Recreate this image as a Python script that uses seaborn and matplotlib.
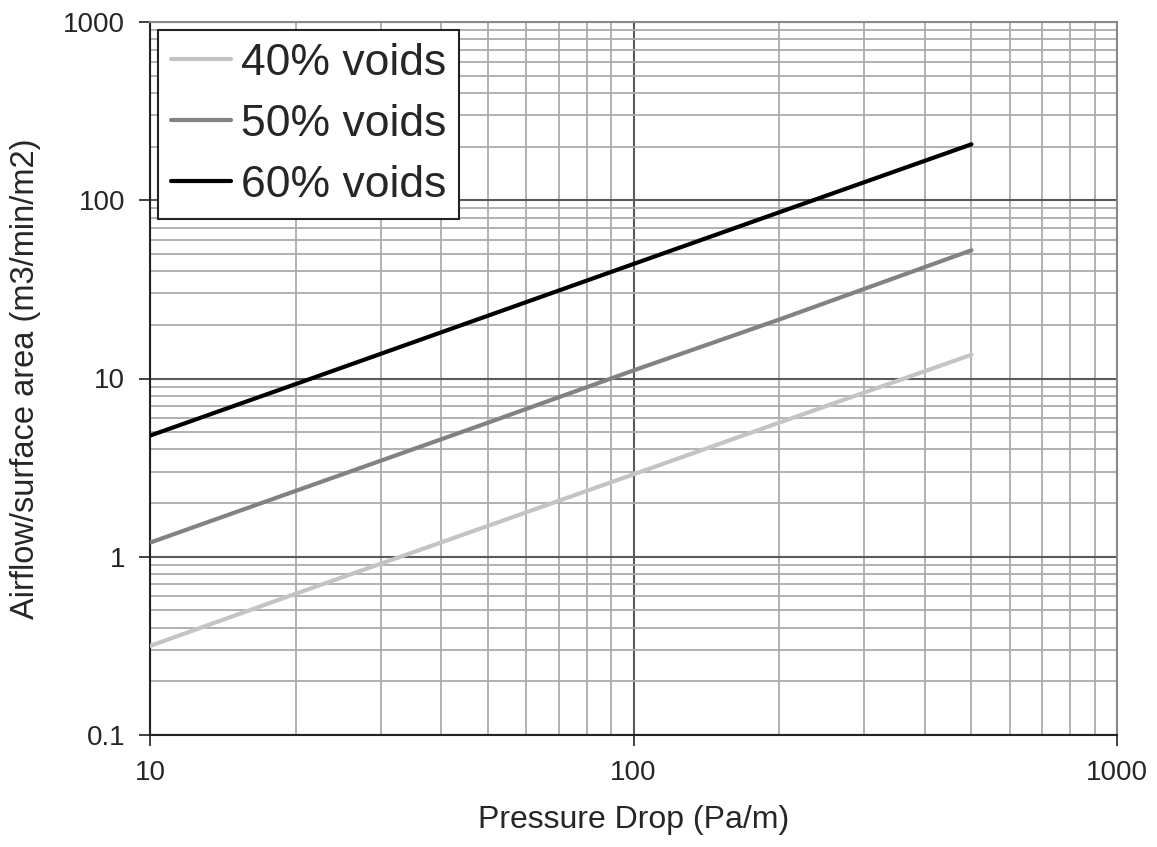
import numpy as np
import pandas as pd
import matplotlib
matplotlib.use("Agg")
import matplotlib.pyplot as plt
import seaborn as sns
from matplotlib.ticker import LogLocator, NullFormatter, FixedLocator, FixedFormatter

# values (pressure drop Pa/m vs airflow m3/min/m2)
pressure = [10, 20, 50, 100, 200, 500]
voids_40 = [0.316, 0.62, 1.49, 2.9, 5.65, 13.6]
voids_50 = [1.20, 2.34, 5.65, 11.1, 21.4, 52.4]
voids_60 = [4.78, 9.3, 22.5, 43.9, 85.5, 206]
series_names = ["40% voids", "50% voids", "60% voids"]
series_colors = ["#c4c4c4", "#828282", "#000000"]

df = pd.DataFrame({
    "pressure": pressure * 3,
    "airflow": voids_40 + voids_50 + voids_60,
    "series": [n for n in series_names for _ in pressure],
})

sns.set_style("white")
plt.rcParams["font.family"] = ["Liberation Sans", "DejaVu Sans"]

fig = plt.figure(figsize=(11.57, 8.47), dpi=100)
ax = fig.add_axes([150 / 1157, 1 - 735 / 847, (1117 - 150) / 1157, (735 - 22) / 847])

sns.lineplot(data=df, x="pressure", y="airflow", hue="series",
             palette=dict(zip(series_names, series_colors)),
             linewidth=3, ax=ax, zorder=3)

ax.set_xscale("log")
ax.set_yscale("log")
ax.set_xlim(10, 1000)
ax.set_ylim(0.1, 1000)

# grid: minor lighter, major darker
ax.xaxis.set_minor_locator(LogLocator(base=10, subs=np.arange(2, 10)))
ax.yaxis.set_minor_locator(LogLocator(base=10, subs=np.arange(2, 10)))
ax.xaxis.set_minor_formatter(NullFormatter())
ax.yaxis.set_minor_formatter(NullFormatter())
ax.grid(which="minor", color="#ababab", linewidth=1.3, zorder=1)
ax.grid(which="major", color="#5a5a5a", linewidth=1.5, zorder=2)
ax.set_axisbelow(True)

xt = [10, 100, 1000]
yt = [0.1, 1, 10, 100, 1000]
ax.xaxis.set_major_locator(FixedLocator(xt))
ax.xaxis.set_major_formatter(FixedFormatter(["10", "100", "1000"]))
ax.yaxis.set_major_locator(FixedLocator(yt))
ax.yaxis.set_major_formatter(FixedFormatter(["0.1", "1", "10", "100", "1000"]))
ax.tick_params(which="major", direction="out", length=8, width=1.3, color="#333333",
               labelsize=20, pad=10, left=True, bottom=True)
ax.tick_params(which="minor", length=0)

for side in ["top", "right"]:
    ax.spines[side].set_color("#8a8a8a")
    ax.spines[side].set_linewidth(1.5)
for side in ["left", "bottom"]:
    ax.spines[side].set_color("#222222")
    ax.spines[side].set_linewidth(1.5)

ax.set_xlabel("Pressure Drop (Pa/m)", fontsize=23, labelpad=14)
ax.set_ylabel("Airflow/surface area (m3/min/m2)", fontsize=23.5, labelpad=16)

leg = ax.legend(loc="upper left", fontsize=32, frameon=True, fancybox=False,
                handlelength=1.35, handletextpad=0.22, borderpad=0.3, labelspacing=0.45,
                borderaxespad=0.17, framealpha=1)
leg.get_frame().set_edgecolor("#222222")
leg.get_frame().set_linewidth(1.5)
for line in leg.get_lines():
    line.set_linewidth(3)

fig.savefig("out.png", dpi=100)
